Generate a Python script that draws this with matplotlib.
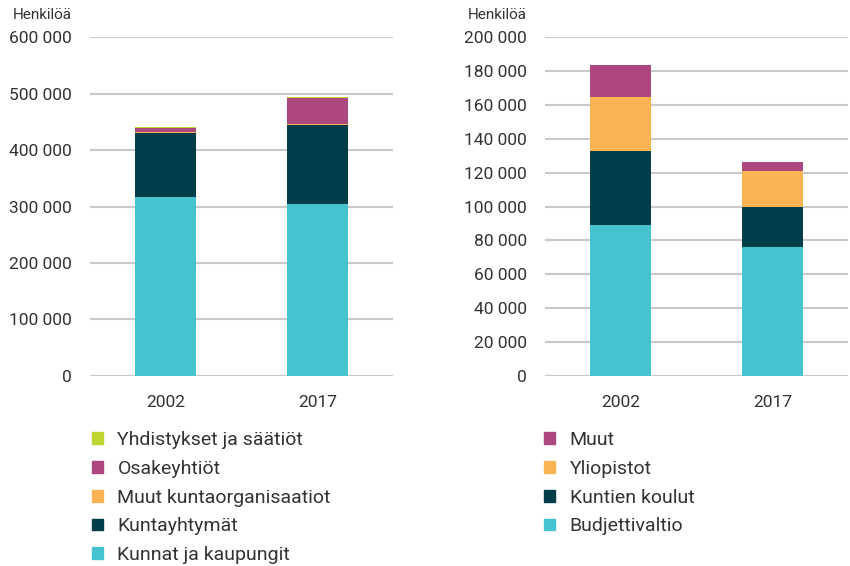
import matplotlib
matplotlib.use("Agg")
import matplotlib.pyplot as plt
from matplotlib.patches import Patch
from matplotlib.ticker import FuncFormatter

plt.rcParams['font.family'] = ['Roboto', 'DejaVu Sans']

years = ["2002", "2017"]

# vasen kuvio: kunnat
kunnat = [316500, 304000]
kuntayhtymat = [113500, 141000]
muut_kunta = [2000, 1500]
osakeyhtiot = [7000, 45500]
yhdistykset = [1000, 1500]

# oikea kuvio: valtio
budjettivaltio = [89300, 76300]
kuntien_koulut = [43200, 23700]
yliopistot = [32000, 20700]
muut = [18900, 5300]

c_cyan = '#45C3CE'
c_dark = '#023E49'
c_orange = '#FBB454'
c_magenta = '#AD477F'
c_lime = '#BED532'
grid_c = '#C9C9C9'
text_c = '#333333'

fmt = FuncFormatter(lambda v, p: f"{int(v):,}".replace(",", " "))

fig = plt.figure(figsize=(8.5, 5.66), dpi=100)
ax1 = fig.add_axes([0.1059, 0.3357, 0.3565, 0.5989])
ax2 = fig.add_axes([0.6412, 0.3357, 0.3565, 0.5989])


def stack(ax, series, colors):
    x = range(len(years))
    bottom = [0] * len(years)
    for vals, col in zip(series, colors):
        ax.bar(x, vals, width=0.4, bottom=bottom, color=col, zorder=3)
        bottom = [b + v for b, v in zip(bottom, vals)]


stack(ax1, [kunnat, kuntayhtymat, muut_kunta, osakeyhtiot, yhdistykset],
      [c_cyan, c_dark, c_orange, c_magenta, c_lime])
stack(ax2, [budjettivaltio, kuntien_koulut, yliopistot, muut],
      [c_cyan, c_dark, c_orange, c_magenta])

for ax, top, step in [(ax1, 600000, 100000), (ax2, 200000, 20000)]:
    ax.set_ylim(0, top)
    ax.set_xlim(-0.5, 1.5)
    ax.set_yticks(range(0, top + 1, step))
    ax.yaxis.set_major_formatter(fmt)
    ax.set_xticks([0, 1])
    ax.set_xticklabels(years)
    for s in ax.spines.values():
        s.set_visible(False)
    ax.grid(axis='y', color=grid_c, linewidth=1.5, zorder=0)
    ax.tick_params(length=0, labelsize=12.5, colors=text_c, pad=13)
    ax.tick_params(axis='x', pad=14)
    ax.text(-0.06, 1.045, "Henkilöä", transform=ax.transAxes, ha='right',
            va='bottom', fontsize=11, color=text_c)

leg1 = [Patch(color=c_lime, label="Yhdistykset ja säätiöt"),
        Patch(color=c_magenta, label="Osakeyhtiöt"),
        Patch(color=c_orange, label="Muut kuntaorganisaatiot"),
        Patch(color=c_dark, label="Kuntayhtymät"),
        Patch(color=c_cyan, label="Kunnat ja kaupungit")]
leg2 = [Patch(color=c_magenta, label="Muut"),
        Patch(color=c_orange, label="Yliopistot"),
        Patch(color=c_dark, label="Kuntien koulut"),
        Patch(color=c_cyan, label="Budjettivaltio")]

for handles, x in [(leg1, 0.108), (leg2, 0.640)]:
    fig.legend(handles=handles, loc='upper left', bbox_to_anchor=(x, 0.238),
               frameon=False, fontsize=14, handlelength=0.57,
               handleheight=0.57, handletextpad=0.75, labelspacing=0.55,
               borderaxespad=0, borderpad=0, labelcolor=text_c)

fig.savefig("out.png", dpi=100)
